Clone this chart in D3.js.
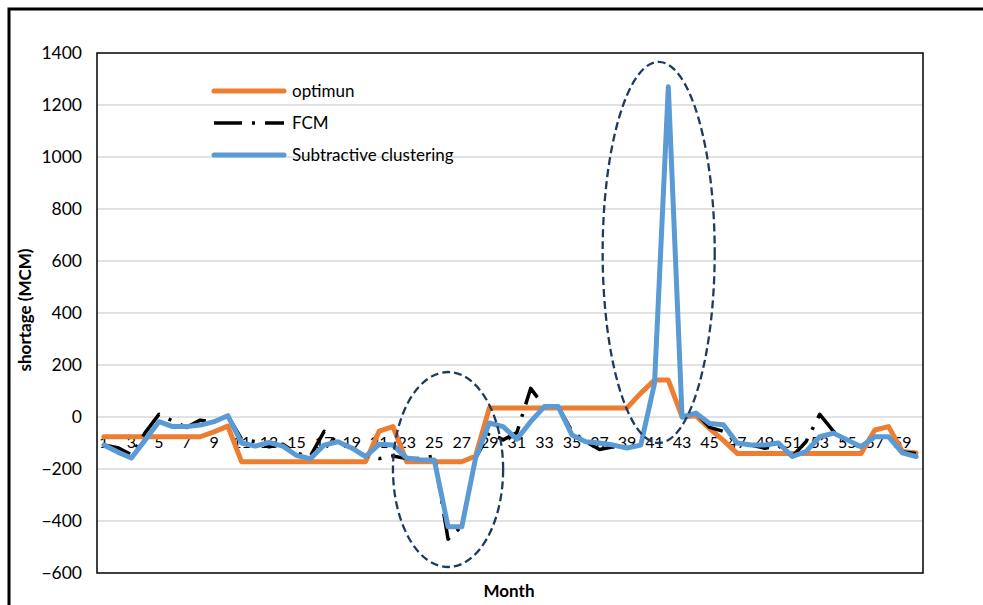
<!DOCTYPE html>
<html>
<head>
<meta charset="utf-8">
<script src="https://cdn.jsdelivr.net/npm/d3@7"></script>
<style>
  body { margin: 0; background: #fff; }
  svg { display: block; font-family: Lato, "Liberation Sans", sans-serif; }
</style>
</head>
<body>
<svg id="chart" width="983" height="605"></svg>
<script>
const months = d3.range(1, 61);

const optimun = [
  -76, -76, -76, -76, -76, -76, -76, -76, -57, -35,
  -172, -172, -172, -172, -172, -172, -172, -172, -172, -172,
  -54, -37, -172, -172, -172, -172, -172, -150, 35, 35,
  35, 35, 35, 35, 35, 35, 35, 35, 35, 92,
  142, 142, 0, 5, -45, -90, -140, -140, -140, -140,
  -140, -140, -140, -140, -140, -140, -50, -37, -133, -138
];

const fcm = [
  -108, -118, -145, -60, 10, -15, -40, -12, -20, 5,
  -85, -95, -115, -105, -140, -150, -55, -100, -120, -150,
  -160, -150, -160, -160, -150, -470, -420, -158, -60, -88,
  -60, 110, 40, 40, -55, -95, -125, -115, -120, -108,
  130, 1270, 0, 15, -40, -55, -100, -108, -120, -110,
  -152, -95, 10, -55, -100, -115, -76, -76, -135, -140
];

const subtractive = [
  -108, -135, -158, -88, -18, -37, -37, -31, -18, 5,
  -100, -112, -98, -112, -148, -160, -108, -95, -119, -152,
  -105, -108, -158, -165, -165, -422, -422, -158, -23, -37,
  -85, -18, 40, 40, -69, -95, -100, -108, -119, -108,
  130, 1270, 0, 15, -25, -30, -100, -108, -108, -100,
  -152, -133, -76, -62, -88, -114, -76, -76, -138, -152
];

const yTicks = d3.range(-600, 1401, 200);
const xTickLabels = months.filter(m => m % 2 === 1);

const seriesNames = ['optimun', 'FCM', 'Subtractive clustering'];

// dashed ellipses drawn round the two outliers (centre month, centre value, radii)
const ellipses = [
  { month: 26.0, value: -202, rMonths: 4.0, rValue: 375 },
  { month: 41.3, value: 633, rMonths: 4.07, rValue: 733 }
];

const svg = d3.select('#chart');
const plotLeft = 97, plotRight = 923, plotTop = 53, plotBottom = 573;

const x = d3.scalePoint().domain(months).range([plotLeft, plotRight]).padding(0.5);
const y = d3.scaleLinear().domain([-600, 1400]).range([plotBottom, plotTop]);
const xAt = m => x(1) + (m - 1) * x.step();

// outer chart frame
svg.append('rect')
  .attr('x', 9).attr('y', 9)
  .attr('width', 1000).attr('height', 700)
  .attr('fill', 'none')
  .attr('stroke', '#000')
  .attr('stroke-width', 3);

// gridlines
svg.append('g')
  .selectAll('line')
  .data(yTicks.filter(t => t > -600 && t < 1400))
  .join('line')
    .attr('x1', plotLeft).attr('x2', plotRight)
    .attr('y1', d => y(d)).attr('y2', d => y(d))
    .attr('stroke', '#d9d9d9')
    .attr('stroke-width', 1.3);

// plot area border
svg.append('rect')
  .attr('x', plotLeft).attr('y', plotTop)
  .attr('width', plotRight - plotLeft).attr('height', plotBottom - plotTop)
  .attr('fill', 'none')
  .attr('stroke', '#000')
  .attr('stroke-width', 1.5);

// y axis
const yAxis = svg.append('g')
  .attr('transform', `translate(${plotLeft},0)`)
  .call(d3.axisLeft(y).tickValues(yTicks).tickSize(0).tickPadding(15).tickFormat(d3.format('d')));
yAxis.select('.domain').remove();
yAxis.selectAll('text')
  .attr('font-family', 'Lato, sans-serif')
  .attr('font-size', 17.5)
  .attr('fill', '#000');

// x labels sit below the zero line
svg.append('g')
  .selectAll('text')
  .data(xTickLabels)
  .join('text')
    .attr('x', d => x(d))
    .attr('y', y(0) + 31)
    .attr('text-anchor', 'middle')
    .attr('font-size', 16)
    .text(d => d);

// axis titles
svg.append('text')
  .attr('transform', `translate(27,310) rotate(-90)`)
  .attr('text-anchor', 'middle')
  .attr('dominant-baseline', 'middle')
  .attr('font-size', 17)
  .attr('font-weight', 'bold')
  .text('shortage (MCM)');

svg.append('text')
  .attr('x', 509)
  .attr('y', 597)
  .attr('text-anchor', 'middle')
  .attr('font-size', 17)
  .attr('font-weight', 'bold')
  .text('Month');

const line = d3.line()
  .x((d, i) => x(months[i]))
  .y(d => y(d));

const styles = [
  { data: optimun, stroke: '#ed7d31', width: 5, dash: null },
  { data: fcm, stroke: '#000', width: 3.5, dash: '28,10,3,10' },
  { data: subtractive, stroke: '#5b9bd5', width: 5, dash: null }
];

svg.append('g')
  .attr('fill', 'none')
  .attr('stroke-linejoin', 'round')
  .selectAll('path')
  .data(styles)
  .join('path')
    .attr('d', s => line(s.data))
    .attr('stroke', s => s.stroke)
    .attr('stroke-width', s => s.width)
    .attr('stroke-dasharray', s => s.dash)
    .attr('stroke-linecap', s => s.dash ? 'butt' : 'round');

// legend
const legend = svg.append('g')
  .selectAll('g')
  .data(styles)
  .join('g')
    .attr('transform', (s, i) => `translate(214,${91 + i * 32})`);

legend.append('line')
  .attr('x1', 0).attr('x2', 70)
  .attr('stroke', s => s.stroke)
  .attr('stroke-width', s => s.width)
  .attr('stroke-dasharray', s => s.dash)
  .attr('stroke-linecap', s => s.dash ? 'butt' : 'round');

legend.append('text')
  .attr('x', 78)
  .attr('dy', '0.35em')
  .attr('font-size', 17)
  .text((s, i) => seriesNames[i]);

// ellipses
svg.append('g')
  .selectAll('ellipse')
  .data(ellipses)
  .join('ellipse')
    .attr('cx', e => xAt(e.month))
    .attr('cy', e => y(e.value))
    .attr('rx', e => e.rMonths * x.step())
    .attr('ry', e => y(0) - y(e.rValue))
    .attr('fill', 'none')
    .attr('stroke', '#1f3a5c')
    .attr('stroke-width', 2.3)
    .attr('stroke-dasharray', '8,4');
</script>
</body>
</html>
